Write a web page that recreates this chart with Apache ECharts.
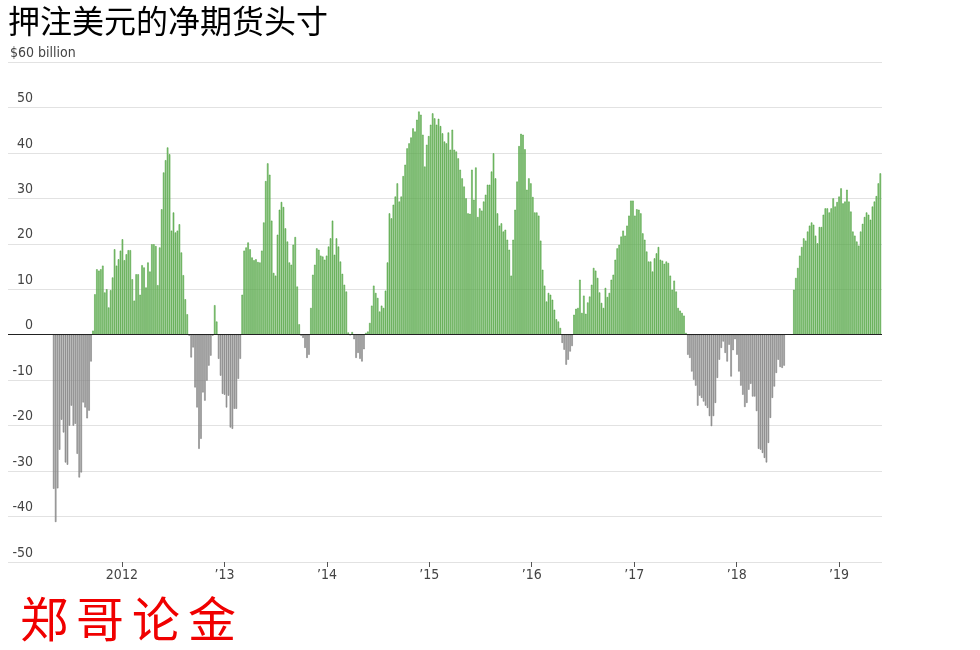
<!DOCTYPE html>
<html><head><meta charset="utf-8">
<script src="https://cdn.jsdelivr.net/npm/echarts@6/dist/echarts.min.js"></script>
<style>html,body{margin:0;padding:0;background:#fff}#c{width:980px;height:650px}</style>
</head><body><div id="c"></div>
<script>
const chartTitle = '押注美元的净期货头寸';
const unitLabel = '$60 billion';
const watermark = '郑哥论金';
const tickYears = [2012, 2013, 2014, 2015, 2016, 2017, 2018, 2019];

// weekly net positions, $ billion; each run starts on the given week
const segA_start = '2011-05-03';
const segA = [-33.9, -41.2, -33.8, -25.3, -18.7, -21.5, -28.1, -28.6, -20, -15.6, -20, -19.6, -26.2, -31.4, -30.3, -14.9, -16, -18.4, -16.7, -5.9,
  0.9, 8.9, 14.4, 14.1, 14.4, 15.2, 9.3, 10, 6, 9.8, 12.6, 18.8, 15.2, 16.6, 18.5, 21, 16.4, 17.7, 18.6, 18.6, 12.2, 7.5, 13.3, 13.3, 8.8, 15.3, 14.8, 10.4, 15.9, 13.9, 19.9, 19.9, 19.5];
const segB_start = '2012-05-08';
const segB = [10.9, 19.2, 27.6, 35.7, 38.4, 41.2, 39.7, 22.9, 26.9, 22.5, 22.9, 24.3, 18.1, 13.1, 7.8, 4.5, -0.2, -5, -2.8, -11.6,
  -16, -25.1, -22.9, -12.7, -14.5, -10.1, -6.8, -4.6, -0.2, 6.5, 2.9, -5.3, -9, -13, -13.2, -16, -13.4, -20.4, -20.7, -16.3,
  -16.3, -9.7, -5.3, 8.8, 18.5, 19.2, 20.3, 18.8, 17, 16.4, 16.6, 16, 15.9];
const segC_start = '2013-05-14';
const segC = [18.5, 24.7, 33.8, 37.7, 35.2, 25.1, 13.6, 13, 22, 27.5, 29.2, 28.1, 23.4, 20.5, 15.9, 15.4, 19.8, 21.5, 10.6, 2.3,
  -0.2, -0.7, -2.9, -5.1, -4.4, 5.9, 13.2, 15.4, 19, 18.7, 17.4, 17.2, 16.5, 17.4, 19.4, 21.2, 25.1, 17.6, 21.2, 19.4,
  16.1, 13.4, 11, 9.5, 0.5, -0.1, 0.6, -1, -5.1, -4, -5.3, -5.9, -3.2];
const segD_start = '2014-05-20';
const segD = [0.4, 0.7, 2.6, 6.4, 10.8, 9.2, 8.1, 5.1, 6.4, 5.9, 9.7, 15.9, 26.7, 25.6, 28.6, 30.4, 33.3, 29.3, 30.4, 34.9,
  37.4, 41, 42.1, 43.4, 45.4, 44.7, 47.3, 49.1, 48.4, 44, 37, 41.8, 43.7, 46.2, 48.7, 47.6, 46.2, 47.5, 45.9, 44.3,
  42.5, 42.1, 44.5, 40.7, 45.1, 40.7, 40.3, 38.8, 36.3, 34.4, 32.6, 30, 26.7, 26.6];
const segE_start = '2015-06-02';
const segE = [36.3, 29.7, 36.8, 25.9, 27.8, 27.3, 29.3, 30.8, 33, 33, 35.9, 39.9, 34.4, 26.7, 24, 24.5, 22.7, 23.1, 20.9, 18.7,
  13, 20.9, 27.5, 33.7, 41.5, 44.2, 44, 40.8, 31.9, 34.4, 33.3, 30.3, 26.9, 26.9, 26.2, 20.7, 14.3, 10.8, 7.3, 9.2,
  8.8, 7.7, 5.5, 3.4, 2.9, 1.5, -1.8, -3.3, -6.6, -5.5, -3.7, -2.5];
const segF_start = '2016-05-31';
const segF = [4.4, 5.7, 5.9, 12.1, 4.8, 8.6, 4.6, 7.1, 8.4, 11, 14.7, 14.1, 12.5, 9.3, 7, 5.9, 10.3, 8.3, 9.2, 12.1,
  13.2, 16.5, 19, 19.8, 21.6, 22.9, 21.8, 24, 26.2, 29.5, 29.5, 26.2, 27.6, 27.5, 26.7, 22.3, 20.9, 18.3, 16.1, 16.1,
  13.9, 16.8, 17.9, 19.3, 16.5, 16.3, 15.6, 16.1, 15.8, 13, 9.9, 11.9, 9.5, 5.9, 5.3];
const segG_start = '2017-06-20';
const segG = [4.8, 4.2, 0.4, -4.4, -5.1, -8.1, -9.9, -11.2, -15.6, -13.4, -13.9, -14.7, -15.6, -16.1, -17.9, -20.1, -17.9, -15, -9.5, -5.5,
  -2.9, -1.5, -4, -5.9, -2.2, -9.2, -3.4, -1, -4.4, -8.1, -11.2, -13.2, -15.9, -15, -12.1, -10.8, -13.6, -13.6, -16.8, -25.1,
  -25.3, -26, -27.1, -28.1, -23.8, -18.3, -13.9, -11.4, -8.4, -5.5, -7.1, -7.3, -6.8];
const segH_start = '2018-07-24';
const segH = [9.9, 12.5, 14.7, 17.4, 19.3, 21.2, 20.7, 22.7, 24, 24.7, 24.2, 21.8, 20.1, 23.7, 23.7, 26.4, 27.8, 27.8, 26.9, 27.8,
  30, 28.2, 29.2, 30.4, 32.2, 28.9, 29.3, 31.9, 29.3, 27.1, 22.7, 21.8, 20.5, 19.6, 22.7, 24.4, 25.9, 26.9, 26.4, 25.3,
  28.2, 29.3, 30.5, 33.3, 35.5];

const runs = [[segA_start, segA], [segB_start, segB], [segC_start, segC], [segD_start, segD],
  [segE_start, segE], [segF_start, segF], [segG_start, segG], [segH_start, segH]];

const WEEK = 7 * 86400000;
const POS = {color: '#8cc47e', borderColor: '#3f9b31'};
const NEG = {color: '#aaaaaa', borderColor: '#707070'};
const barData = [];
runs.forEach(([start, vals]) => {
  const t0 = Date.parse(start + 'T00:00:00Z');
  vals.forEach((v, i) => {
    barData.push({value: [t0 + i * WEEK, v], itemStyle: Object.assign({borderWidth: 0.5}, v >= 0 ? POS : NEG)});
  });
});
const yearStarts = tickYears.map(y => Date.UTC(y, 0, 1));

const FONT = '"DejaVu Sans", sans-serif';
const LAB = {fontFamily: FONT, fontSize: 14, fontWeight: 'condensed', color: '#444'};
const chart = echarts.init(document.getElementById('c'), null, {renderer: 'canvas'});
chart.setOption({
  animation: false,
  backgroundColor: '#fff',
  title: [
    {text: chartTitle, left: 3, top: 0, textStyle: {fontFamily: '"Noto Sans CJK SC"', fontSize: 32, fontWeight: 'normal', color: '#000'}},
    {text: '{w|' + watermark.split('').join('}{w|') + '}', left: 15, top: 590,
      textStyle: {rich: {w: {width: 56, fontFamily: '"Noto Sans CJK SC"', fontSize: 48, fontWeight: 'normal', color: '#f00000'}}}}
  ],
  grid: {left: 8, right: 98, top: 62, bottom: 88},
  xAxis: {
    type: 'value',
    scale: true,
    min: Date.UTC(2010, 10, 21),
    max: Date.UTC(2019, 5, 3),
    axisLine: {show: false, onZero: false},
    splitLine: {show: false},
    axisTick: {show: true, length: 5, lineStyle: {color: '#555'}, customValues: yearStarts},
    axisLabel: Object.assign({
      customValues: yearStarts,
      margin: 6,
      formatter: v => { const y = new Date(v).getUTCFullYear(); return y === 2012 ? '2012' : '\u2019' + String(y).slice(2); }
    }, LAB)
  },
  yAxis: {
    type: 'value', min: -50, max: 60, interval: 10,
    axisLine: {show: false}, axisTick: {show: false},
    splitLine: {lineStyle: {color: '#e2e2e2', width: 1}},
    axisLabel: Object.assign({
      inside: true, margin: 2, align: 'left', verticalAlign: 'bottom', padding: [0, 0, 2, 0],
      formatter: v => v === 60 ? '{u|' + unitLabel + '}' : '{n|' + v + '}',
      rich: {
        n: Object.assign({width: 23, align: 'right'}, LAB),
        u: Object.assign({}, LAB)
      }
    }, LAB)
  },
  series: [{
    type: 'bar',
    data: barData,
    barWidth: 1.5,
    markLine: {
      silent: true, symbol: 'none', label: {show: false},
      lineStyle: {color: '#222', width: 1, type: 'solid'},
      data: [{yAxis: 0}]
    }
  }]
});
</script>
</body></html>
